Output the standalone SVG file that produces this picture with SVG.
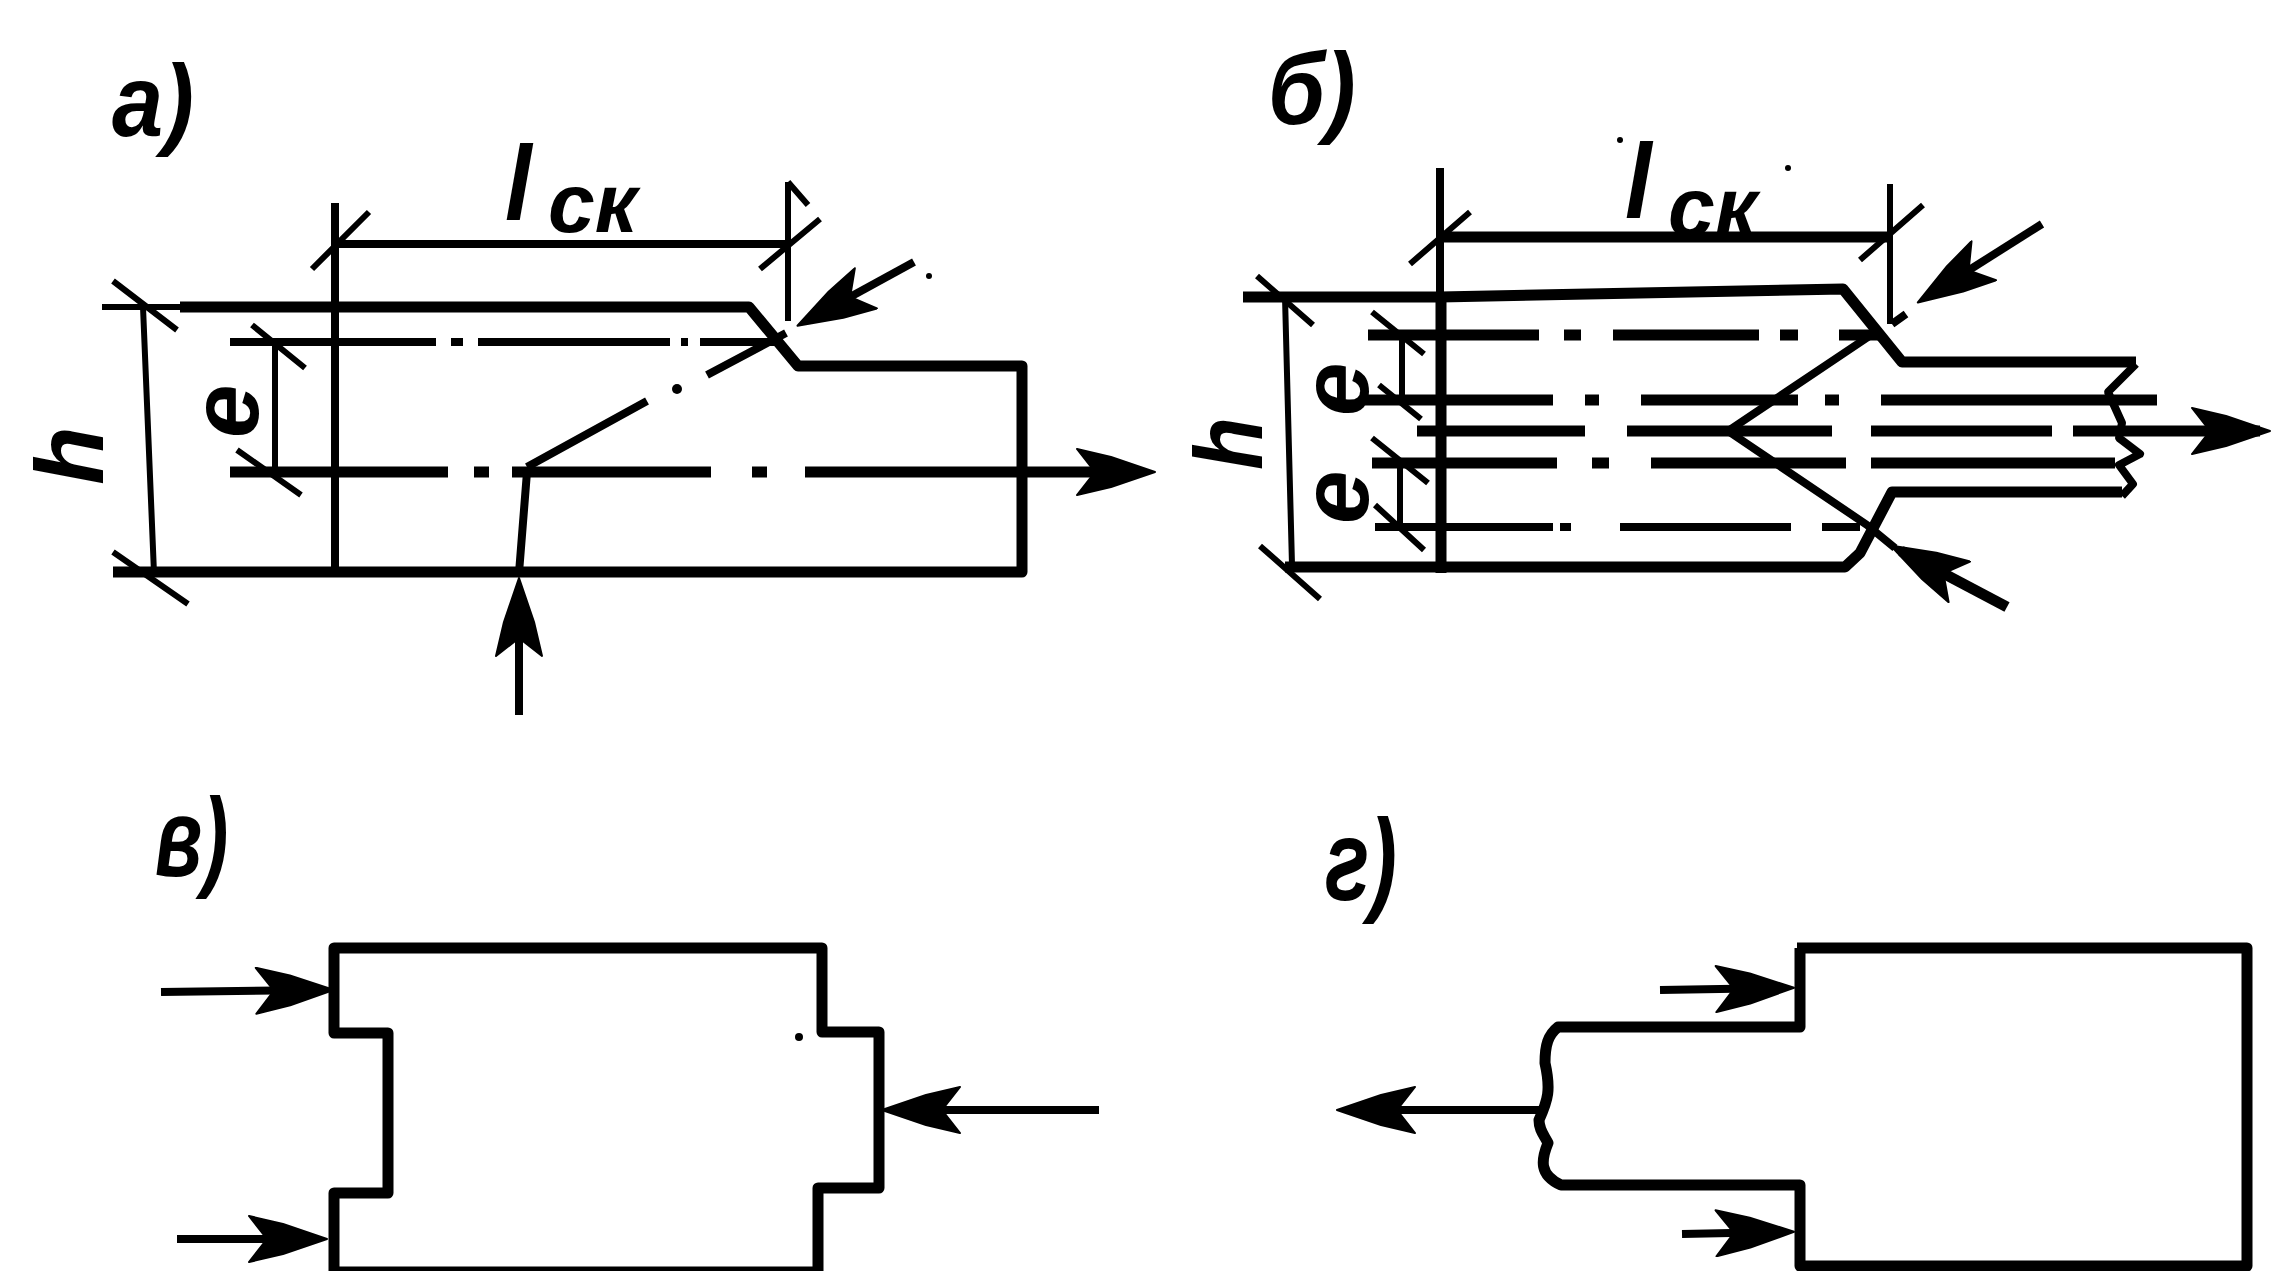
<svg xmlns="http://www.w3.org/2000/svg" width="2274" height="1271" viewBox="0 0 2274 1271">
<style>
.bg{fill:#fff}
path,line,polyline{fill:none;stroke:#000;stroke-linejoin:round;stroke-linecap:butt}
.k{stroke-width:11}
.m{stroke-width:8}
.t{stroke-width:6}
.a{stroke-width:8}
.sp{fill:#000;stroke:none}
text{font-family:"Liberation Sans","DejaVu Sans",sans-serif;font-style:italic;font-weight:bold;fill:#000}
.lb{font-size:92px}
.sy{font-size:96px}
.sb{font-size:84px}
</style>
<defs>
<marker id="ah" markerUnits="userSpaceOnUse" markerWidth="84" markerHeight="48" viewBox="0 0 84 48" refX="70" refY="24" orient="auto">
<path d="M82 24L38 9L4 1L22 24L4 47L38 39Z" style="fill:#000;stroke:#000;stroke-width:2"/>
</marker>
</defs>
<rect class="bg" width="2274" height="1271"/>

<g id="panel-a">
<path class="k" d="M335 307H749L798 366H1022V572H335"/>
<path class="k" d="M335 572H113M335 307H180"/>
<path class="t" d="M102 307H180"/>
<path class="m" d="M335 203V573"/>
<path class="t" d="M143 307L154 573M275 342V469M788 182V321"/>
<path class="m" d="M335 244H788"/>
<path class="t" d="M113 281L177 330M113 552L188 604M369 212L312 269M820 219L760 269M252 325L305 368M237 450L301 495M788 182L808 205"/>
<path class="m" d="M230 342H436M451 342H463M478 342H670M681 342H688M700 342H775"/>
<path class="k" d="M230 472H448M474 472H489M512 472H711M752 472H767M805 472H1100"/>
<path class="m" d="M527 467L647 401M707 375L786 333M527 472L519 573"/>
<circle class="sp" cx="677" cy="389" r="5"/>
<circle class="sp" cx="929" cy="276" r="3"/>
<text class="lb" transform="translate(112 136) scale(1 1.1)">а)</text>
<text class="sy" transform="translate(505 220) scale(1 1.1)">l</text>
<text class="sb" transform="translate(548 232)">ск</text>
<text class="sy" transform="translate(103 485) rotate(-90)">h</text>
<text class="sy" transform="translate(258 438) rotate(-90)">e</text>
</g>

<g id="panel-b">
<path class="k" d="M1243 297H1440L1843 289L1902 362H2136"/>
<path class="k" d="M1285 567H1845L1860 553L1892 492H2122"/>
<path class="m" d="M2136 364L2108 392L2122 423L2119 438L2140 454L2119 465L2133 484L2122 496"/>
<path class="m" d="M1440 168V297"/>
<path class="k" d="M1441 297V573"/>
<path class="k" d="M1440 237H1890"/>
<path class="t" d="M1285 297L1292 565M1890 184V324M1402 335V400M1400 463V527"/>
<path class="t" d="M1257 276L1313 325M1260 546L1320 599M1470 212L1410 264M1923 205L1860 260M1372 312L1424 354M1379 385L1421 419M1372 438L1428 483M1375 505L1424 550"/>
<path class="k" d="M1368 335H1539M1564 335H1581M1613 335H1759M1780 335H1798M1839 335H1878"/>
<path class="k" d="M1365 400H1553M1585 400H1599M1641 400H1798M1825 400H1839M1881 400H2157"/>
<path class="k" d="M1417 431H1585M1627 431H1832M1871 431H2052M2073 431H2260"/>
<path class="k" d="M1372 463H1557M1592 463H1609M1651 463H1846M1871 463H2115"/>
<path class="m" d="M1375 527H1553M1560 527H1571M1620 527H1791M1822 527H1860"/>
<path class="m" d="M1871 335L1728 431L1867 525L1895 548M1906 314L1892 324"/>
<circle class="sp" cx="1620" cy="140" r="3"/>
<circle class="sp" cx="1788" cy="168" r="3"/>
<text class="lb" transform="translate(1268 124) scale(1 1.1)">б)</text>
<text class="sy" transform="translate(1625 218) scale(1 1.1)">l</text>
<text class="sb" transform="translate(1668 236)">ск</text>
<text class="sy" transform="translate(1262 470) rotate(-90) scale(.9 1)">h</text>
<text class="sy" transform="translate(1368 416) rotate(-90)">e</text>
<text class="sy" transform="translate(1368 524) rotate(-90)">e</text>
</g>

<g id="panel-v">
<path class="k" d="M334 948H822V1032H879V1188H818V1272H334V1193H388V1033H334Z"/>
<circle class="sp" cx="799" cy="1037" r="4"/>
<text class="lb" transform="translate(155 876) scale(.85 1.2)">в)</text>
</g>

<g id="panel-g">
<path class="k" d="M1797 948H2247V1266H1800V1185H1561C1539 1175 1541 1160 1548 1143C1544 1135 1539 1130 1539 1120C1548 1100 1551 1090 1545 1063C1545 1045 1548 1035 1558 1027H1800V948"/>
<text class="lb" transform="translate(1325 900) scale(.9 1.25)">г)</text>
</g>

<g id="connectors">
<line class="a" x1="519" y1="715" x2="519" y2="590" marker-end="url(#ah)"/>
<line class="a" x1="914" y1="262" x2="808" y2="320" marker-end="url(#ah)"/>
<line class="a" x1="1100" y1="472" x2="1143" y2="472" marker-end="url(#ah)"/>
<line class="a" x1="2042" y1="224" x2="1928" y2="296" marker-end="url(#ah)"/>
<line class="k" x1="2007" y1="607" x2="1901" y2="551" marker-end="url(#ah)"/>
<line class="a" x1="2200" y1="431" x2="2258" y2="431" marker-end="url(#ah)"/>
<line class="a" x1="161" y1="992" x2="322" y2="990" marker-end="url(#ah)"/>
<line class="a" x1="177" y1="1239" x2="315" y2="1239" marker-end="url(#ah)"/>
<line class="a" x1="1099" y1="1110" x2="894" y2="1110" marker-end="url(#ah)"/>
<line class="a" x1="1660" y1="990" x2="1782" y2="988" marker-end="url(#ah)"/>
<line class="a" x1="1682" y1="1234" x2="1782" y2="1232" marker-end="url(#ah)"/>
<line class="a" x1="1539" y1="1110" x2="1349" y2="1110" marker-end="url(#ah)"/>
</g>
</svg>
